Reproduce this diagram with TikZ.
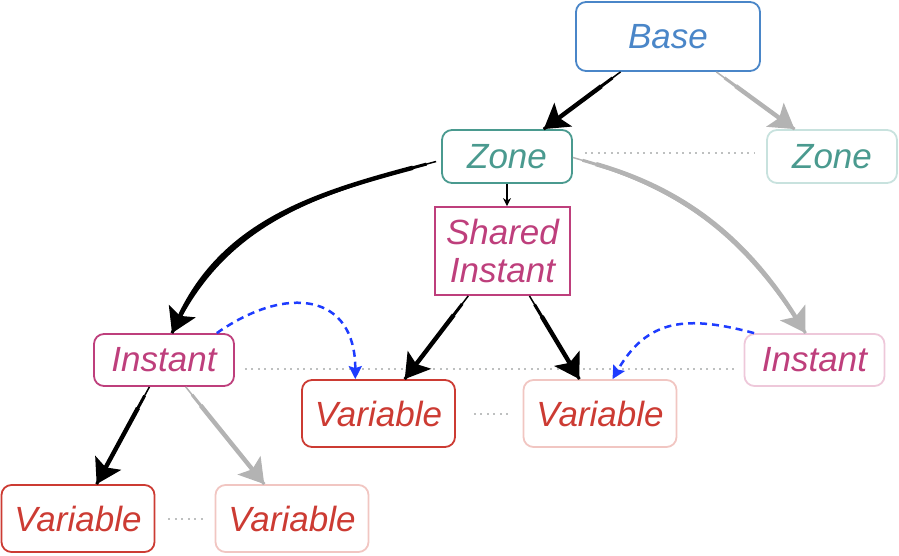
\documentclass[tikz,border=0pt]{standalone}
\usepackage{fontspec}
\setmainfont{Liberation Sans}
\usepackage{tikz}
\usetikzlibrary{arrows.meta,calc}
\definecolor{baseBlue}{RGB}{74,134,200}
\definecolor{zoneTeal}{RGB}{74,154,143}
\definecolor{zoneFaint}{RGB}{200,226,222}
\definecolor{instMagenta}{RGB}{190,63,124}
\definecolor{instFaint}{RGB}{238,200,218}
\definecolor{varRed}{RGB}{204,59,51}
\definecolor{varFaint}{RGB}{241,198,194}
\definecolor{linkGray}{RGB}{179,179,179}
\definecolor{dotGray}{RGB}{190,192,192}
\definecolor{refBlue}{RGB}{30,60,255}

\begin{document}
\begin{tikzpicture}[x=1pt,y=1pt,
  box/.style={rounded corners=10pt, line width=1.8pt, inner sep=0pt, font=\fontsize{35}{38}\selectfont\itshape},
  basebox/.style={box, draw=baseBlue, text=baseBlue, minimum width=184pt, minimum height=69pt},
  zonebox/.style={box, draw=zoneTeal, text=zoneTeal, minimum width=130pt, minimum height=53pt},
  instbox/.style={box, draw=instMagenta, text=instMagenta, minimum width=140pt, minimum height=52pt},
  varbox/.style={box, draw=varRed, text=varRed, minimum width=153pt, minimum height=67pt},
  taper/.style={draw=#1, line width=4.4pt, shorten <=24pt, -{Stealth[length=24pt,width=29pt,inset=5pt]},
    preaction={draw=#1, arrows=-, line width=1.5pt, shorten <=0pt},
    preaction={draw=#1, arrows=-, line width=3pt, shorten <=10pt}},
  strong/.style={taper=black},
  weak/.style={taper=linkGray},
  ref/.style={draw=refBlue, line width=2.5pt, dash pattern=on 7pt off 5pt, -{Stealth[length=13pt,width=13pt,inset=2pt]}},
  peer/.style={draw=dotGray, line width=2pt, dash pattern=on 2pt off 4.5pt}]
\useasboundingbox (0,0) rectangle (899,-555);

\node[basebox] (base) at (668,-36.5) {Base};
\node[zonebox] (zoneA) at (507,-156.5) {Zone};
\node[zonebox, draw=zoneFaint] (zoneB) at (832,-156.5) {Zone};
\node[instbox, rounded corners=0pt, minimum width=135pt, minimum height=88pt, align=center] (shared) at (502.5,-251) {Shared\\Instant};
\node[instbox] (instA) at (164,-360) {Instant};
\node[instbox, draw=instFaint] (instB) at (814.5,-360) {Instant};
\node[varbox] (varA) at (378.5,-413.5) {Variable};
\node[varbox, draw=varFaint] (varB) at (600,-413.5) {Variable};
\node[varbox] (varC) at (78,-518.5) {Variable};
\node[varbox, draw=varFaint] (varD) at (292,-518.5) {Variable};

% siblings
\draw[peer, shorten <=12pt, shorten >=12pt] ([yshift=4pt]zoneA.east) -- ([yshift=4pt]zoneB.west);
\draw[peer, shorten <=10pt, shorten >=8pt] ([yshift=-9pt]instA.east) -- ([yshift=-9pt]instB.west);
\draw[peer, shorten <=18pt, shorten >=10pt] (varA.east) -- (varB.west);
\draw[peer, shorten <=13pt, shorten >=11pt] (varC.east) -- (varD.west);

% derivation
\draw[strong] (base) -- (zoneA);
\draw[weak] (base) -- (zoneB);
\draw[line width=1.2pt, -{Stealth[length=8pt,width=8pt]}] (zoneA.south) -- (zoneA.south |- shared.north);
\draw[strong] ([shift={(-5pt,-5pt)}]zoneA.west) to[out=195, in=65] ([xshift=8pt]instA.north);
\draw[weak] ([yshift=-1pt]zoneA.east) to[out=-16, in=122] ([xshift=-9pt]instB.north);
\draw[strong] (shared) -- (varA);
\draw[strong] (shared) -- (varB);
\draw[strong] (instA) -- (varC);
\draw[weak] (instA) -- (varD);

% references
\draw[ref] (instA.27) to[out=35, in=90, looseness=1.5] (varA.124);
\draw[ref] (instB.156) to[out=165, in=60, looseness=1.2] (varB.70);
\end{tikzpicture}
\end{document}
